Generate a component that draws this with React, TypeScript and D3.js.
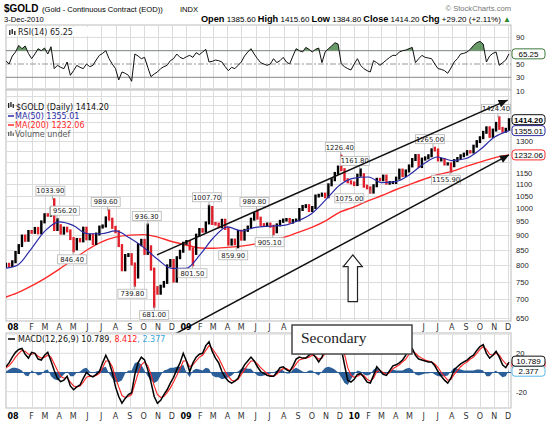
import React from 'react';
import * as d3 from 'd3';

// weekly closes (Friday)
const firstWeek = new Date(2007, 11, 7);
const weeklyClose = [
  803, 799, 811, 841,
  864, 897, 882, 913, 910, 924, 908, 948, 975, 973, 1001, 920, 934,
  907, 925, 915, 888, 853, 885, 880, 925, 887, 900, 871, 904, 929,
  933, 963, 958, 928, 912, 864, 786, 831, 834, 804, 764, 867, 882,
  838, 860, 788, 733, 717, 737, 748, 798, 815, 752, 824, 845, 872,
  878, 853, 838, 900, 920, 914, 944, 1003, 942, 940, 930, 954, 924,
  869, 883, 870, 914, 886, 917, 929, 958, 979, 962, 938, 935, 940,
  932, 912, 937, 950, 955, 957, 947, 953, 955, 995, 1007, 1010, 991,
  1003, 1049, 1052, 1057, 1046, 1096, 1118, 1146, 1175, 1163, 1118, 1109, 1104,
  1097, 1138, 1140, 1090, 1083, 1065, 1092, 1120, 1118, 1134, 1103, 1106, 1106,
  1125, 1161, 1136, 1157, 1180, 1210, 1229, 1177, 1212, 1218, 1228, 1257, 1256,
  1208, 1210, 1189, 1190, 1181, 1205, 1215, 1228, 1236, 1248, 1246, 1275, 1298,
  1318, 1346, 1370, 1325, 1358, 1394, 1367, 1352, 1362, 1414.2,
];

// RSI(14), one reading per week
const rsiValues = [
  55, 50, 62, 68, 78, 73, 77, 66, 58, 65, 73, 70, 74, 65, 76, 43, 48, 45, 43, 53,
  33, 40, 48, 45, 43, 50, 46, 48, 56, 63, 66, 70, 58, 50, 43, 26, 38, 36, 33, 24,
  65, 62, 58, 60, 45, 31, 35, 38, 43, 46, 48, 55, 58, 65, 60, 58, 61, 63, 60, 67,
  64, 68, 72, 53, 54, 56, 55, 53, 46, 40, 45, 43, 48, 53, 62, 68, 73, 65, 58, 52,
  50, 48, 50, 58, 52, 55, 60, 53, 50, 62, 73, 70, 68, 75, 72, 68, 72, 74, 52, 68,
  73, 77, 82, 80, 50, 46, 43, 41, 50, 58, 48, 43, 40, 38, 55, 52, 48, 52, 56, 60,
  63, 63, 68, 70, 71, 73, 75, 52, 58, 63, 60, 59, 58, 50, 43, 42, 40, 36, 44, 53,
  58, 65, 66, 68, 72, 78, 82, 84, 80, 53, 62, 66, 68, 48, 52, 56, 65.25,
];

// MACD(12,26,9) line and signal line, one reading per week
const macdValues = [
  6, 10, 16, 21, 24, 25, 19, 15, 21, 20, 14, 13, 18, 21, 12, 2, -6, -9.5, -8, -4,
  -14, -18, -15, -13, -6, 0, -3, -4.5, -2, 1, 10, 18, 11, 0, -15, -25, -32, -27, -23, -21,
  -2, 10, 16, 13, 3, -10, -25, -32, -29, -23, -18, -11, -5, 3, 10, 20, 12, 1, 10, 16,
  19, 20, 28, 32, 22, 15, 10, 1, -5, -9, -11, -9, -6, 2, 8, 12, 16, 12, 6, 1,
  -1, -3, -4, -4, 0, 5, 6, 3, 1, 7, 14, 16, 15, 15, 18, 20, 16, 11, 16, 25,
  32, 36, 38, 34, 25, 8, -8, -10, -7, -2, -1, -5, -10, -11, -3, 6, 2, -2, -3, 2,
  7, 8, 10, 13, 18, 24, 25, 18, 14, 13, 12, 11, 11, 7, 1, -4, -8, -11, -6, 3,
  6, 9, 11, 13, 16, 18, 23, 27, 29, 20, 15, 18, 22, 16, 8, 5, 10.789,
];
const signalValues = [
  5, 7, 11, 16, 20, 23, 22, 19, 19, 20, 17, 15, 16, 18, 16, 9, 2, -4, -6, -5,
  -10, -14, -15, -14, -10, -5, -4, -4, -3, -1, 5, 12, 12, 6, -5, -15, -24, -26, -25, -23,
  -12, -1, 8, 11, 7, -2, -14, -23, -26, -25, -21, -16, -10, -3, 4, 12, 12, 6, 8, 12,
  16, 18, 23, 28, 25, 20, 15, 8, 1, -4, -8, -9, -7, -2, 3, 8, 12, 12, 9, 5,
  2, -1, -3, -4, -2, 2, 4, 4, 2, 4, 9, 13, 14, 15, 16, 18, 17, 14, 15, 20,
  26, 31, 35, 34, 30, 19, 5, -3, -5, -4, -2, -3, -7, -9, -6, 1, 2, 0, -2, 0,
  4, 6, 8, 11, 14, 19, 22, 20, 17, 15, 13, 12, 11, 9, 5, 0, -4, -8, -7, -2,
  2, 6, 9, 11, 14, 16, 20, 24, 27, 24, 19, 18, 20, 18, 13, 9, 8.412,
];

// moving averages, read at the start of each month
const ma50 = [
  790, 800, 855, 915, 948, 935, 905, 905, 915, 890, 858, 818, 790,
  790, 835, 890, 930, 915, 928, 932, 935, 952, 980, 1035, 1095,
  1125, 1130, 1105, 1110, 1140, 1190, 1222, 1205, 1215, 1257, 1320, 1355.01,
];
const ma200 = [
  705, 718, 738, 760, 788, 818, 850, 876, 893, 900, 902, 893, 878,
  866, 856, 855, 858, 862, 870, 882, 892, 910, 928, 953, 985,
  1005, 1030, 1050, 1075, 1097, 1120, 1140, 1155, 1178, 1198, 1218, 1232.06,
];

// labelled highs and lows
const annoDates = ['2008-03-17', '2008-03-27', '2008-05-01', '2008-07-15', '2008-09-11', '2008-10-10',
  '2008-10-24', '2009-01-15', '2009-02-20', '2009-04-20', '2009-06-03', '2009-07-08', '2009-12-03',
  '2010-01-13', '2010-02-05', '2010-06-21', '2010-07-28', '2010-11-09'];
const annoValues = [1033.9, 956.2, 846.4, 989.6, 739.8, 936.3, 681.0, 801.5, 1007.7, 859.9, 989.8,
  905.1, 1226.4, 1161.8, 1075.0, 1265.0, 1155.9, 1424.4];
const annoIsHigh = [true, true, false, true, false, true, false, false, true, false, true, false, true,
  true, false, true, false, true];
const annoShift = [-2, 8, -1, -2, -2, -1, 0, 0, -2, -3, -2, -3, -1, -5, -21, -3, -4, -2];

const priceTicks = d3.range(650, 1451, 50);
const rsiTicks = [90, 70, 50, 30, 10];
const macdTicks = [20, 0, -20];
const monthLetters = ['J', 'F', 'M', 'A', 'M', 'J', 'J', 'A', 'S', 'O', 'N', 'D'];

// latest values shown in the boxes on the right
const lastClose = 1414.2;
const lastMa50 = 1355.01;
const lastMa200 = 1232.06;
const lastRsi = 65.25;
const lastMacd = 10.789;
const lastSignal = 8.412;
const lastHist = 2.377;

// channel lines (date, price) and the up arrow anchor
const upperLine = [['2008-10-30', 833], ['2010-11-30', 1527]];
const lowerLine = [['2008-10-09', 576.5], ['2010-12-03', 1232]];
const arrowAt = ['2009-12-29', 833];

const parse = d3.timeParse('%Y-%m-%d');
const startDate = new Date(2007, 11, 3);
const endDate = new Date(2010, 11, 3);

const L = 6;
const R = 511;
const rsiTop = 25, rsiBot = 90;
const mainTop = 90, mainBot = 321;
const macdTop = 333, macdBot = 408;

// the "Secondary" note box
const note = { x: 292, y: 325, w: 120, h: 29 };

const x = d3.scaleTime().domain([startDate, endDate]).range([4, 509]);
const yP = d3.scaleLog().domain([650, 1450]).range([318.3, 113.3]);
const yR = d3.scaleLinear().domain([50, 70]).range([64, 50.7]);
const yM = d3.scaleLinear().domain([0, 20]).range([372.5, 353.3]);

const weekDates = weeklyClose.map((_, i) => d3.timeDay.offset(firstWeek, 7 * i));
const maDates = [startDate, ...d3.timeMonth.range(new Date(2008, 0, 1), new Date(2010, 10, 2)), endDate];
const months = d3.timeMonth.range(new Date(2008, 0, 1), new Date(2010, 11, 2));

const SANS = 'DejaVu Sans, Verdana, sans-serif';
const ARIAL = 'Liberation Sans, Arial, sans-serif';

function ValueBox({ y, text, stroke, bold }: any) {
  return (
    <g>
      <rect x={512} y={y - 5} width={33} height={10} rx={3} fill="#fff" stroke={stroke} strokeWidth={1} />
      {text && (
        <text x={528.5} y={y + 3} textAnchor="middle" fontSize={8} fontFamily={ARIAL}
          fontWeight={bold ? 'bold' : 'normal'} fill="#000">{text}</text>
      )}
    </g>
  );
}

// skip axis labels that sit under a value box
const freeTicks = (ticks: number[], scale: (v: number) => number, boxes: number[]) =>
  ticks.filter((t) => boxes.every((b) => Math.abs(scale(t) - scale(b)) > 7));

function MonthLabels({ y, hideFrom = 0, hideTo = 0 }: { y: number; hideFrom?: number; hideTo?: number }) {
  return (
    <g fontFamily={SANS} fontSize={8} textAnchor="middle">
      {months.map((m, i) => {
        const isYear = m.getMonth() === 0;
        const px = isYear && i === 0 ? 13 : x(m);
        if (px > hideFrom - 4 && px < hideTo + 4) return null;
        return (
          <text key={i} x={px} y={y} fontWeight={isYear ? 'bold' : 'normal'}
            fill={isYear ? '#000' : '#333'}>
            {isYear ? String(m.getFullYear()).slice(2) : monthLetters[m.getMonth()]}
          </text>
        );
      })}
    </g>
  );
}

function VGrid({ top, bot }: { top: number; bot: number }) {
  return (
    <g stroke="#dcdcdc" strokeWidth={1}>
      {months.map((m, i) => (
        <line key={i} x1={Math.round(x(m)) + 0.5} x2={Math.round(x(m)) + 0.5} y1={top} y2={bot} />
      ))}
    </g>
  );
}

export default function App() {
  // price bars: previous close to close, widened by labelled extremes
  const bars = weeklyClose.map((c, i) => {
    const prev = i === 0 ? c - 6 : weeklyClose[i - 1];
    return { i, lo: Math.min(prev, c), hi: Math.max(prev, c), up: c >= prev };
  });
  annoDates.forEach((d, k) => {
    const idx = Math.ceil(d3.timeDay.count(firstWeek, parse(d)!) / 7);
    const b = bars[Math.min(idx, bars.length - 1)];
    b.lo = Math.min(b.lo, annoValues[k]);
    b.hi = Math.max(b.hi, annoValues[k]);
  });

  const maLine = d3.line<number>().x((_, i) => x(maDates[i])).y((v) => yP(v)).curve(d3.curveMonotoneX);
  const rsiLine = d3.line<number>().x((_, i) => x(weekDates[i])).y((v) => yR(v));
  const rsiArea = d3.area<number>().x((_, i) => x(weekDates[i])).y0(yR(70)).y1((v) => yR(v));
  const macdLine = d3.line<number>().x((_, i) => x(weekDates[i])).y((v) => yM(v));
  const hist = macdValues.map((v, i) => v - signalValues[i]);
  const histArea = d3.area<number>().x((_, i) => x(weekDates[i])).y0(yM(0)).y1((v) => yM(v));

  const lineXY = (pts: any[]) => pts.map(([d, v]) => [x(parse(d)!), yP(v)]);
  const up = lineXY(upperLine);
  const lo = lineXY(lowerLine);
  const ax = x(parse(arrowAt[0] as string)!);
  const ay = yP(arrowAt[1] as number);

  const arrowHead = (p0: number[], p1: number[]) => {
    const ang = Math.atan2(p1[1] - p0[1], p1[0] - p0[0]);
    const len = 9, w = 4;
    const bx = p1[0] - len * Math.cos(ang), by = p1[1] - len * Math.sin(ang);
    return `M${p1[0]},${p1[1]}L${bx + w * Math.sin(ang)},${by - w * Math.cos(ang)}L${bx - w * Math.sin(ang)},${by + w * Math.cos(ang)}Z`;
  };

  return (
    <svg width={550} height={422} style={{ position: 'absolute', left: 0, top: 0, background: '#fff' }}>
      <defs>
        <clipPath id="clipMain"><rect x={L} y={mainTop} width={R - L} height={mainBot - mainTop} /></clipPath>
        <clipPath id="clipRsi"><rect x={L} y={rsiTop} width={R - L} height={rsiBot - rsiTop} /></clipPath>
        <clipPath id="clipOb"><rect x={L} y={rsiTop} width={R - L} height={yR(70) - rsiTop} /></clipPath>
        <clipPath id="clipMacd"><rect x={L} y={macdTop} width={R - L} height={macdBot - macdTop} /></clipPath>
      </defs>

      {/* header */}
      <g fontFamily={ARIAL} fill="#000">
        <text x={4} y={12} fontSize={10} fontWeight="bold">$GOLD</text>
        <text x={42} y={12} fontSize={7.6}>(Gold - Continuous Contract (EOD))</text>
        <text x={180} y={12} fontSize={7.6}>INDX</text>
        <text x={511} y={11} fontSize={7.6} fill="#777" textAnchor="end">© StockCharts.com</text>
        <text x={4} y={22} fontSize={7.6}>3-Dec-2010</text>
        <text x={511} y={22} fontSize={8} textAnchor="end">
          <tspan fontWeight="bold" fontSize={9.2}>Open</tspan> 1385.60{' '}
          <tspan fontWeight="bold" fontSize={9.2}>High</tspan> 1415.60{' '}
          <tspan fontWeight="bold" fontSize={9.2}>Low</tspan> 1384.80{' '}
          <tspan fontWeight="bold" fontSize={9.2}>Close</tspan> 1414.20{' '}
          <tspan fontWeight="bold" fontSize={9.2}>Chg</tspan> +29.20 (+2.11%)
          <tspan fill="#2a8a2a"> ▲</tspan>
        </text>
      </g>

      {/* RSI panel */}
      <rect x={L} y={rsiTop} width={R - L} height={rsiBot - rsiTop} fill="#fff" stroke="#bbb" />
      <VGrid top={rsiTop} bot={rsiBot} />
      {[90, 10].map((t) => (
        <line key={t} x1={L} x2={R} y1={yR(t)} y2={yR(t)} stroke="#dcdcdc" />
      ))}
      {[70, 30].map((t) => (
        <line key={t} x1={L} x2={R} y1={yR(t)} y2={yR(t)} stroke="#888" />
      ))}
      <line x1={L} x2={R} y1={yR(50)} y2={yR(50)} stroke="#999" strokeDasharray="6,2,2,2" />
      <g clipPath="url(#clipOb)">
        <path d={rsiArea(rsiValues) || ''} fill="#4f8a4f" opacity={0.85} />
      </g>
      <g clipPath="url(#clipRsi)">
        <path d={rsiLine(rsiValues) || ''} fill="none" stroke="#111" strokeWidth={1} />
      </g>
      <rect x={L + 2} y={27} width={82} height={9} fill="#fff" />
      <g fill="#333">
        <rect x={9} y={30} width={1.5} height={5} /><rect x={11.5} y={29} width={1.5} height={5} /><rect x={14} y={31} width={1.5} height={4} />
      </g>
      <text x={18} y={34.5} fontFamily={SANS} fontSize={8} fill="#222">RSI(14) {lastRsi}</text>
      <g fontFamily={ARIAL} fontSize={7.6} fill="#222">
        {freeTicks(rsiTicks, yR, [lastRsi]).map((t) => <text key={t} x={516} y={yR(t) + 3}>{t}</text>)}
      </g>
      <ValueBox y={yR(lastRsi)} text={String(lastRsi)} stroke="#3d7a3d" />

      {/* main price panel */}
      <rect x={L} y={mainTop} width={R - L} height={mainBot - mainTop} fill="#fff" stroke="#bbb" />
      <VGrid top={mainTop} bot={mainBot} />
      <g stroke="#dcdcdc">
        {d3.range(650, 1601, 50).map((t) => (
          <line key={t} x1={L} x2={R} y1={Math.round(yP(t)) + 0.5} y2={Math.round(yP(t)) + 0.5} />
        ))}
      </g>
      <g clipPath="url(#clipMain)">
        <path d={maLine(ma200) || ''} fill="none" stroke="#ff2a2a" strokeWidth={1.4} />
        {bars.map((b) => (
          <line key={b.i} x1={x(weekDates[b.i])} x2={x(weekDates[b.i])}
            y1={yP(b.hi) - 1.5} y2={yP(b.lo) + 1.5} stroke={b.up ? '#000' : '#e0202a'} strokeWidth={2.4} />
        ))}
        <path d={maLine(ma50) || ''} fill="none" stroke="#2b2ba8" strokeWidth={1.2} />
      </g>

      {/* labelled highs and lows */}
      <g fontFamily={SANS} fontSize={6.8}>
        {annoDates.map((d, k) => {
          const px = x(parse(d)!);
          const py = yP(annoValues[k]);
          const cx = px + annoShift[k];
          const cy = annoIsHigh[k] ? py - 9 : py + 8.5;
          const w = 29;
          return (
            <g key={k}>
              <line x1={px} x2={px} y1={py} y2={annoIsHigh[k] ? cy + 4.5 : cy - 4.5} stroke="#999" strokeWidth={0.8} />
              <rect x={cx - w / 2} y={cy - 4.5} width={w} height={9} fill="#fff" stroke="#b5b5b5" strokeWidth={0.8} />
              <text x={cx} y={cy + 2.5} textAnchor="middle" fill="#222">{annoValues[k].toFixed(2)}</text>
            </g>
          );
        })}
      </g>

      {/* legend */}
      <g fontFamily={SANS} fontSize={8}>
        <g fill="#222">
          <rect x={8} y={103} width={1.3} height={5} /><rect x={10.3} y={102} width={1.3} height={5} /><rect x={12.6} y={104} width={1.3} height={4} />
        </g>
        <text x={16} y={110} fill="#111">$GOLD (Daily) {lastClose.toFixed(2)}</text>
        <line x1={8} x2={14} y1={116} y2={116} stroke="#2b2ba8" strokeWidth={1.5} />
        <text x={15} y={119} fill="#2b2ba8">MA(50) {lastMa50.toFixed(2)}</text>
        <line x1={8} x2={14} y1={125} y2={125} stroke="#ff2a2a" strokeWidth={1.5} />
        <text x={15} y={128} fill="#ff2a2a">MA(200) {lastMa200.toFixed(2)}</text>
        <g fill="#666">
          <rect x={8} y={132} width={1.3} height={4} /><rect x={10.3} y={131} width={1.3} height={5} /><rect x={12.6} y={133} width={1.3} height={3} />
        </g>
        <text x={15} y={137} fill="#555">Volume undef</text>
      </g>

      {/* price axis */}
      <g fontFamily={ARIAL} fontSize={7.6} fill="#222">
        {freeTicks(priceTicks, yP, [lastClose, lastMa50, lastMa200]).map((t) => (
          <text key={t} x={516} y={yP(t) + 3}>{t}</text>
        ))}
      </g>

      {/* channel lines */}
      <g stroke="#111" strokeWidth={1.5} fill="#111">
        <line x1={up[0][0]} y1={up[0][1]} x2={up[1][0]} y2={up[1][1]} />
        <path d={arrowHead(up[0], up[1])} stroke="none" />
        <line x1={lo[0][0]} y1={lo[0][1]} x2={lo[1][0]} y2={lo[1][1]} />
      </g>

      {/* hollow up arrow */}
      <path
        d={`M${ax},${ay}L${ax + 9.5},${ay + 11.7}L${ax + 4.7},${ay + 11.7}L${ax + 4.7},${ay + 46.7}L${ax - 4.7},${ay + 46.7}L${ax - 4.7},${ay + 11.7}L${ax - 9.5},${ay + 11.7}Z`}
        fill="#fff" stroke="#222" strokeWidth={1.2}
      />

      <ValueBox y={yP(lastMa200)} text={lastMa200.toFixed(2)} stroke="#ff3030" />
      <path d={arrowHead(lo[0], lo[1])} fill="#111" />
      <ValueBox y={yP(lastMa50)} text={lastMa50.toFixed(2)} stroke="#2b2ba8" />
      <ValueBox y={yP(lastClose)} text={lastClose.toFixed(2)} stroke="#111" bold />

      {/* middle month labels (the note box covers part of them) */}
      <MonthLabels y={330} hideFrom={note.x} hideTo={note.x + note.w} />

      {/* MACD panel */}
      <rect x={L} y={macdTop} width={R - L} height={macdBot - macdTop} fill="#fff" stroke="#bbb" />
      <VGrid top={macdTop} bot={macdBot} />
      <g stroke="#dcdcdc">
        {[40, 20, -20].map((t) => <line key={t} x1={L} x2={R} y1={yM(t)} y2={yM(t)} />)}
      </g>
      <g clipPath="url(#clipMacd)">
        <path d={histArea(hist) || ''} fill="#2c5f98" />
        <line x1={L} x2={R} y1={yM(0)} y2={yM(0)} stroke="#2c5f98" strokeWidth={1} />
        <path d={macdLine(signalValues) || ''} fill="none" stroke="#ff2020" strokeWidth={1.1} />
        <path d={macdLine(macdValues) || ''} fill="none" stroke="#000" strokeWidth={1.5} />
      </g>
      <line x1={8} x2={15} y1={339} y2={339} stroke="#000" strokeWidth={1.5} />
      <text x={18} y={342} fontFamily={SANS} fontSize={8} fill="#111">
        MACD(12,26,9) {lastMacd}<tspan fill="#ff2020">, {lastSignal}</tspan><tspan fill="#3aa8e0">, {lastHist}</tspan>
      </text>
      <g fontFamily={ARIAL} fontSize={7.6} fill="#222">
        {freeTicks(macdTicks, yM, [lastMacd, lastHist]).map((t) => <text key={t} x={516} y={yM(t) + 3}>{t}</text>)}
      </g>
      {/* the signal box sits behind the other two, as in the original */}
      <ValueBox y={yM(lastSignal)} text="" stroke="#ff2020" />
      <ValueBox y={yM(lastHist) + 1} text={String(lastHist)} stroke="#5ab8e8" />
      <ValueBox y={yM(lastMacd) - 1} text={String(lastMacd)} stroke="#111" />

      <MonthLabels y={419} />

      {/* text note */}
      <rect x={note.x} y={note.y} width={note.w} height={note.h} fill="#fff" stroke="#444" strokeWidth={1.5} />
      <text x={note.x + 9} y={note.y + 18} fontFamily="Liberation Serif, serif" fontSize={15.5} fill="#222">Secondary</text>
    </svg>
  );
}
